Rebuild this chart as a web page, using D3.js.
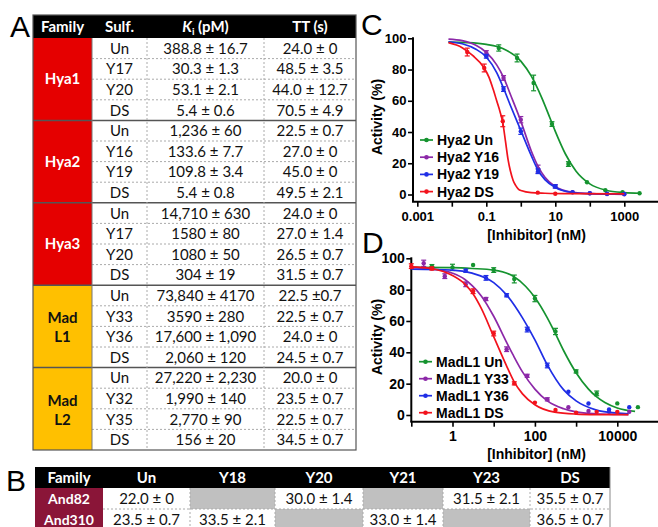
<!DOCTYPE html>
<html lang="en">
<head>
<meta charset="utf-8">
<title>Inhibitor tables and dose response</title>
<script src="https://cdn.jsdelivr.net/npm/d3@7"></script>
<style>
  body { margin: 0; background: #fff; }
  .tbl text { font-family: Lato, "Open Sans", sans-serif; font-size: 15px; fill: #111; }
  .plot text { font-family: "Liberation Sans", Arial, sans-serif; font-weight: bold; fill: #000; }
  .letter { font-family: "Liberation Sans", Arial, sans-serif; font-size: 30px; }
</style>
</head>
<body>
<script>
// ---- table A ----
var families = ["Hya1", "Hya2", "Hya3", "Mad L1", "Mad L2"];
var familyFill = ["#e50000", "#e50000", "#e50000", "#ffc000", "#ffc000"];
var sulfLabels = ["Un", "Y17", "Y20", "DS", "Un", "Y16", "Y19", "DS", "Un", "Y17", "Y20", "DS",
                  "Un", "Y33", "Y36", "DS", "Un", "Y32", "Y35", "DS"];
var kiValues = ["388.8 ± 16.7", "30.3 ± 1.3", "53.1 ± 2.1", "5.4 ± 0.6",
                "1,236 ± 60", "133.6 ± 7.7", "109.8 ± 3.4", "5.4 ± 0.8",
                "14,710 ± 630", "1580 ± 80", "1080 ± 50", "304 ± 19",
                "73,840 ± 4170", "3590 ± 280", "17,600 ± 1,090", "2,060 ± 120",
                "27,220 ± 2,230", "1,990 ± 140", "2,770 ± 90", "156 ± 20"];
var ttValues = ["24.0 ± 0", "48.5 ± 3.5", "44.0 ± 12.7", "70.5 ± 4.9",
                "22.5 ± 0.7", "27.0 ± 0", "45.0 ± 0", "49.5 ± 2.1",
                "24.0 ± 0", "27.0 ± 1.4", "26.5 ± 0.7", "31.5 ± 0.7",
                "22.5 ±0.7", "22.5 ± 0.7", "24.0 ± 0", "24.5 ± 0.7",
                "20.0 ± 0", "23.5 ± 0.7", "22.5 ± 0.7", "34.5 ± 0.7"];

// ---- table B ----
var bColumns = ["Family", "Un", "Y18", "Y20", "Y21", "Y23", "DS"];
var bFamilies = ["And82", "And310"];
var bValues = [["22.0 ± 0", null, "30.0 ± 1.4", null, "31.5 ± 2.1", "35.5 ± 0.7"],
               ["23.5 ± 0.7", "33.5 ± 2.1", null, "33.0 ± 1.4", null, "36.5 ± 0.7"]];

// ---- panel C: Hya2 (dose nM, activity %, error) ----
var hya2Labels = ["Hya2 Un", "Hya2 Y16", "Hya2 Y19", "Hya2 DS"];
var hya2UnPts = [[0.23, 93.8, 2], [0.78, 87.4, 2.5], [2.35, 71.4, 5], [8, 45.1, 1.5], [24, 19.5, 1.5],
                 [83, 7.8, 0.5], [282, 2.7, 0.5], [890, 1.4, 0.5], [2770, 0.8, 0.5]];
var hya2Y16Pts = [[0.1, 90.6, 1.5], [0.316, 74.6, 1.5], [1, 47.9, 2], [3.16, 16.3, 2.5], [10, 5.2, 1],
                  [31.6, 1.4, 0.5], [100, 0.8, 0.5], [316, 0.3, 0.5], [1000, 0.2, 0.5]];
var hya2Y19Pts = [[0.1, 88.5, 1.2], [0.316, 67.5, 1.5], [1, 40.5, 2], [3.16, 14.9, 1.5], [10, 5.2, 1],
                  [31.6, 1.5, 0.5], [100, 0.8, 0.5], [316, 0.5, 0.5], [1000, 0.3, 0.5]];
var hya2DSPts = [[0.028, 91.2, 2.5], [0.087, 81, 2.5], [0.3, 46.9, 3.5], [3.1, 1.2, 0.5], [10, 0.5, 0.3]];
// fitted curves
var hya2UnCurve = [[0.008, 97.5], [0.03, 97.2], [0.1, 96.1], [0.3, 93.5], [1, 85.4], [2, 75.9], [4, 62.2],
                   [7, 49], [10, 40.4], [20, 25.6], [40, 14.9], [100, 6.8], [300, 2.7], [1000, 1.2], [2800, 0.8]];
var hya2Y16Curve = [[0.008, 99.5], [0.02, 98.5], [0.05, 95.5], [0.1, 91], [0.2, 83], [0.316, 75], [0.5, 64],
                    [1, 47], [2, 28], [3.16, 18], [5, 11], [10, 5], [30, 1.5], [100, 0.5], [1000, 0.1]];
var hya2Y19Curve = [[0.008, 97.8], [0.02, 96.5], [0.05, 93], [0.1, 88], [0.2, 78], [0.316, 68], [0.5, 57],
                    [1, 41], [2, 25], [3.16, 15.5], [5, 9.5], [10, 4.5], [30, 1.3], [100, 0.5], [1000, 0.2]];
var hya2DSCurve = [[0.008, 97.2], [0.02, 94], [0.04, 89], [0.087, 81], [0.12, 75], [0.16, 67], [0.2, 60],
                   [0.25, 53], [0.3, 46], [0.36, 34], [0.43, 22], [0.5, 15], [0.6, 9], [0.7, 6], [0.85, 3.5],
                   [1.07, 2.4], [2, 1.2], [5, 0.8], [30, 0.5], [1000, 0.4]];
var cXTicks = [0.001, 0.01, 0.1, 1, 10, 100, 1000];
var cXLabels = ["0.001", "", "0.1", "", "10", "", "1000"];

// ---- panel D: MadL1 ----
var madLabels = ["MadL1 Un", "MadL1 Y33", "MadL1 Y36", "MadL1 DS"];
var madUnPts = [[0.316, 95, 1], [1, 94.2, 2], [3.16, 95.7, 0], [10, 92.5, 1.5], [31.6, 86.8, 2.5],
                [100, 74.3, 2], [316, 53.3, 2], [1000, 27.8, 1], [3162, 13.8, 1.5], [10000, 7.4, 0.5], [31623, 5.0, 0.5]];
var madY33Pts = [[0.2, 96.8, 2], [0.65, 88.6, 1.5], [2.1, 83.4, 1.5], [6.5, 74, 1], [20.6, 42, 1.5],
                 [65, 25, 1], [200, 10, 1], [650, 4.9, 0.5], [2000, 2.6, 0.5], [6300, 2.1, 0.5], [19500, 2.1, 0.5]];
var madY36Pts = [[2.1, 92.1, 1], [6.5, 87.5, 1.5], [20.6, 76.4, 1], [65, 54.5, 1.5], [200, 31.6, 1.5],
                 [650, 14.8, 0.5], [2000, 7.3, 0.5], [6300, 3.5, 0.5], [19500, 5.0, 0.5]];
var madDSPts = [[0.1, 95, 1.5], [0.316, 93.5, 1], [3.16, 79, 1.5], [10, 52, 1.5], [31.6, 20.2, 1],
                [100, 7.9, 0.5], [316, 3.2, 0.5], [1000, 1.5, 0.3], [3162, 2, 0.3], [10000, 2, 0.3]];
var madUnCurve = [[0.1, 94.2], [1, 94], [3, 93.5], [10, 92.5], [30, 88.5], [60, 82], [100, 75], [200, 62],
                  [300, 53], [500, 41], [1000, 27], [2000, 16.5], [3000, 12], [5000, 8], [10000, 4.5], [27000, 2.3]];
var madY33Curve = [[0.1, 94], [0.3, 93.3], [1, 90.5], [2, 86.5], [3, 82.5], [5, 76], [10, 63], [20, 47], [30, 38],
                   [50, 27.5], [100, 16.5], [200, 9], [500, 4], [1000, 2], [3000, 0.8], [10000, 0.4], [18600, 0.3]];
var madY36Curve = [[0.1, 93], [1, 92.5], [3, 90.5], [10, 84.5], [20, 77], [50, 62], [100, 48], [200, 32],
                   [500, 16], [1000, 9], [3000, 3.3], [10000, 1.2], [18600, 0.8]];
var madDSCurve = [[0.1, 94.5], [0.3, 93.5], [1, 89], [2, 83.5], [3.2, 77], [5, 68], [10, 50], [20, 32],
                  [31.6, 21], [50, 13.5], [100, 6.5], [300, 1.8], [1000, 0.6], [3000, 0.3], [18600, 0.2]];
var dXTicks = [0.1, 1, 10, 100, 1000, 10000];
var dXLabels = ["", "1", "", "100", "", "10000"];

var yTicks = [0, 20, 40, 60, 80, 100];
var seriesColors = ["#15932f", "#8c28a8", "#1f2ee6", "#f2121c"];

var svg = d3.select("body").append("svg")
    .attr("width", 658)
    .attr("height", 527);

// panel letters
svg.append("text").attr("class", "letter").attr("x", 10).attr("y", 37).text("A");
svg.append("text").attr("class", "letter").attr("x", 6).attr("y", 491).text("B");
svg.append("text").attr("class", "letter").attr("x", 361).attr("y", 35).text("C");
svg.append("text").attr("class", "letter").attr("x", 362).attr("y", 253).text("D");

// ================= table A =================
var ta = svg.append("g").attr("class", "tbl");
var colX = d3.scaleLinear().domain([0, 1, 2, 3, 4]).range([33, 92, 147, 264, 356]);
var rowY = d3.scaleBand().domain(d3.range(20)).range([38, 450]);
var rh = rowY.bandwidth();
var colMid = function(i) { return (colX(i) + colX(i + 1)) / 2; };

ta.append("rect").attr("x", colX(0)).attr("y", 15).attr("width", colX(4) - colX(0)).attr("height", 23).attr("fill", "#000");
var hdr = ["Family", "Sulf.", null, "TT (s)"];
hdr.forEach(function(h, i) {
    if (h === null) return;
    ta.append("text").attr("x", colMid(i)).attr("y", 31.5).attr("text-anchor", "middle")
        .style("fill", "#fff").style("font-weight", "bold").text(h);
});
var kiHdr = ta.append("text").attr("x", colMid(2)).attr("y", 31.5).attr("text-anchor", "middle")
    .style("fill", "#fff").style("font-weight", "bold");
kiHdr.append("tspan").style("font-style", "italic").text("K");
kiHdr.append("tspan").attr("dy", 3).style("font-size", "10px").text("i");
kiHdr.append("tspan").attr("dy", -3).text(" (pM)");

// family blocks
families.forEach(function(f, i) {
    var y0 = rowY(i * 4), y1 = rowY(i * 4 + 3) + rh;
    ta.append("rect").attr("x", colX(0)).attr("y", y0).attr("width", colX(1) - colX(0)).attr("height", y1 - y0)
        .attr("fill", familyFill[i]);
    var parts = f.split(" ");
    var t = ta.append("text").attr("x", colMid(0)).attr("text-anchor", "middle")
        .style("font-weight", "bold").style("fill", i < 3 ? "#fff" : "#111");
    if (parts.length === 1) {
        t.attr("y", (y0 + y1) / 2 + 5).text(f);
    } else {
        t.attr("y", (y0 + y1) / 2 - 3).text(parts[0]);
        ta.append("text").attr("x", colMid(0)).attr("y", (y0 + y1) / 2 + 16).attr("text-anchor", "middle")
            .style("font-weight", "bold").text(parts[1]);
    }
});

// cells
d3.range(20).forEach(function(r) {
    var cy = rowY(r) + rh / 2 + 5.5;
    ta.append("text").attr("x", colMid(1)).attr("y", cy).attr("text-anchor", "middle").text(sulfLabels[r]);
    ta.append("text").attr("x", colMid(2)).attr("y", cy).attr("text-anchor", "middle").text(kiValues[r]);
    ta.append("text").attr("x", colMid(3)).attr("y", cy).attr("text-anchor", "middle").text(ttValues[r]);
});

// grid lines
d3.range(1, 20).forEach(function(r) {
    var solid = r % 4 === 0;
    ta.append("line")
        .attr("x1", solid ? colX(0) : colX(1)).attr("x2", colX(4))
        .attr("y1", rowY(r)).attr("y2", rowY(r))
        .attr("stroke", solid ? "#555" : "#aaa")
        .attr("stroke-width", solid ? 1.5 : 1)
        .attr("stroke-dasharray", solid ? null : "2,2");
});
[2, 3].forEach(function(c) {
    ta.append("line").attr("x1", colX(c)).attr("x2", colX(c)).attr("y1", 38).attr("y2", 450)
        .attr("stroke", "#aaa").attr("stroke-dasharray", "2,2");
});
ta.append("line").attr("x1", colX(1)).attr("x2", colX(1)).attr("y1", 38).attr("y2", 450).attr("stroke", "#777");
ta.append("rect").attr("x", colX(0)).attr("y", 15).attr("width", colX(4) - colX(0)).attr("height", 435)
    .attr("fill", "none").attr("stroke", "#555").attr("stroke-width", 1.2);

// ================= table B =================
var tb = svg.append("g").attr("class", "tbl");
var bColX = d3.scaleLinear().domain([0, 1, 2, 3, 4, 5, 6, 7]).range([35, 103, 190, 275, 363, 443, 530, 610]);
var bRowY = d3.scaleBand().domain([0, 1, 2]).range([467, 530]);
var brh = bRowY.bandwidth();
tb.append("rect").attr("x", bColX(0)).attr("y", bRowY(0)).attr("width", bColX(7) - bColX(0)).attr("height", brh)
    .attr("fill", "#000");
bColumns.forEach(function(c, i) {
    tb.append("text").attr("x", (bColX(i) + bColX(i + 1)) / 2).attr("y", bRowY(0) + brh / 2 + 5)
        .attr("text-anchor", "middle").style("fill", "#fff").style("font-weight", "bold").text(c);
});
bFamilies.forEach(function(f, r) {
    var y0 = bRowY(r + 1);
    tb.append("rect").attr("x", bColX(0)).attr("y", y0).attr("width", bColX(1) - bColX(0)).attr("height", brh)
        .attr("fill", "#8a1538");
    tb.append("text").attr("x", (bColX(0) + bColX(1)) / 2).attr("y", y0 + brh / 2 + 5).attr("text-anchor", "middle")
        .style("fill", "#fff").style("font-weight", "bold").style("font-size", "14px").text(f);
    bValues[r].forEach(function(v, c) {
        var x0 = bColX(c + 1), x1 = bColX(c + 2);
        if (v === null) {
            tb.append("rect").attr("x", x0).attr("y", y0).attr("width", x1 - x0).attr("height", brh).attr("fill", "#c0c0c0");
        } else {
            tb.append("text").attr("x", (x0 + x1) / 2).attr("y", y0 + brh / 2 + 5).attr("text-anchor", "middle").text(v);
        }
    });
});
tb.append("line").attr("x1", bColX(1)).attr("x2", bColX(7)).attr("y1", bRowY(2)).attr("y2", bRowY(2))
    .attr("stroke", "#aaa").attr("stroke-dasharray", "2,2");
d3.range(2, 7).forEach(function(c) {
    tb.append("line").attr("x1", bColX(c)).attr("x2", bColX(c)).attr("y1", bRowY(1)).attr("y2", 527)
        .attr("stroke", "#aaa").attr("stroke-dasharray", "2,2");
});
tb.append("line").attr("x1", bColX(7)).attr("x2", bColX(7)).attr("y1", bRowY(0)).attr("y2", 527).attr("stroke", "#888");

// ================= dose-response panels =================
function drawPanel(cfg) {
    var g = svg.append("g").attr("class", "plot");
    var x = d3.scaleLog().domain(cfg.xDomain).range(cfg.xRange);
    var y = d3.scaleLinear().domain([0, 100]).range(cfg.yRange);
    var x0 = cfg.xRange[0];

    // y axis
    var ya = g.append("g").attr("transform", "translate(" + x0 + ",0)")
        .call(d3.axisLeft(y).tickValues(yTicks).tickSize(5).tickPadding(cfg.yPad));
    ya.select(".domain").remove();
    ya.selectAll("line").attr("stroke-width", 1.6);
    ya.selectAll("text").attr("font-family", cfg.tickFont).attr("font-size", cfg.tickSize).attr("font-weight", "bold");
    g.append("line").attr("x1", x0).attr("x2", x0).attr("y1", y(100) - 1).attr("y2", cfg.axisY)
        .attr("stroke", "#000").attr("stroke-width", 2);

    // x axis
    var xa = g.append("g").attr("transform", "translate(0," + cfg.axisY + ")")
        .call(d3.axisBottom(x).tickValues(cfg.xTicks)
            .tickFormat(function(d, i) { return cfg.xLabels[i]; })
            .tickSize(5).tickPadding(cfg.xPad));
    xa.select(".domain").remove();
    xa.selectAll("line").attr("stroke-width", 1.6);
    xa.selectAll("text").attr("font-family", cfg.tickFont).attr("font-size", cfg.tickSize).attr("font-weight", "bold");
    g.append("line").attr("x1", x0 - 1).attr("x2", cfg.xRange[1]).attr("y1", cfg.axisY).attr("y2", cfg.axisY)
        .attr("stroke", "#000").attr("stroke-width", 2);

    // axis titles
    g.append("text").attr("transform", "translate(" + cfg.yTitle[0] + "," + cfg.yTitle[1] + ") rotate(-90)")
        .attr("text-anchor", "middle").style("font-size", "14px").text("Activity (%)");
    g.append("text").attr("x", cfg.xTitle[0]).attr("y", cfg.xTitle[1])
        .attr("text-anchor", "middle").style("font-size", "14px").text("[Inhibitor] (nM)");

    var line = d3.line()
        .x(function(d) { return x(d[0]); })
        .y(function(d) { return y(d[1]); })
        .curve(d3.curveMonotoneX);

    cfg.series.forEach(function(s, i) {
        var col = seriesColors[i];
        g.append("path").datum(s.curve).attr("d", line)
            .attr("fill", "none").attr("stroke", col).attr("stroke-width", 1.7);
        var pts = g.append("g").selectAll("g").data(s.pts).enter().append("g");
        pts.append("line")
            .attr("x1", function(d) { return x(d[0]); }).attr("x2", function(d) { return x(d[0]); })
            .attr("y1", function(d) { return y(d[1] - d[2]); }).attr("y2", function(d) { return y(d[1] + d[2]); })
            .attr("stroke", col).attr("stroke-width", 1.3);
        [-1, 1].forEach(function(sign) {
            pts.filter(function(d) { return d[2] > 0.8; }).append("line")
                .attr("x1", function(d) { return x(d[0]) - 2.5; }).attr("x2", function(d) { return x(d[0]) + 2.5; })
                .attr("y1", function(d) { return y(d[1] + sign * d[2]); })
                .attr("y2", function(d) { return y(d[1] + sign * d[2]); })
                .attr("stroke", col).attr("stroke-width", 1.2);
        });
        pts.append("circle")
            .attr("cx", function(d) { return x(d[0]); }).attr("cy", function(d) { return y(d[1]); })
            .attr("r", 2.2).attr("fill", col);

        // legend
        var ly = cfg.legendY + i * cfg.legendStep;
        var lg = g.append("g").attr("transform", "translate(" + cfg.legendX + "," + ly + ")");
        lg.append("line").attr("x1", 0).attr("x2", 13).attr("stroke", col).attr("stroke-width", 1.7);
        lg.append("circle").attr("cx", 6.5).attr("r", 2.3).attr("fill", col);
        lg.append("text").attr("x", 17).attr("dy", "0.36em").style("font-size", "14px").text(s.label);
    });
}

drawPanel({
    xDomain: [0.00075, 10000], xRange: [413, 658.8],
    yRange: [194.5, 38.3], axisY: 201.7,
    xTicks: cXTicks, xLabels: cXLabels,
    tickFont: "'Liberation Serif', 'Times New Roman', serif", tickSize: 13, yPad: 1.5, xPad: 5,
    yTitle: [381.5, 117], xTitle: [536.5, 240],
    legendX: 420, legendY: 140, legendStep: 17.2,
    series: [
        { label: hya2Labels[0], pts: hya2UnPts, curve: hya2UnCurve },
        { label: hya2Labels[1], pts: hya2Y16Pts, curve: hya2Y16Curve },
        { label: hya2Labels[2], pts: hya2Y19Pts, curve: hya2Y19Curve },
        { label: hya2Labels[3], pts: hya2DSPts, curve: hya2DSCurve }
    ]
});

drawPanel({
    xDomain: [0.1, 100000], xRange: [411.3, 658.5],
    yRange: [415, 258.3], axisY: 421.7,
    xTicks: dXTicks, xLabels: dXLabels,
    tickFont: "'Liberation Sans', Arial, sans-serif", tickSize: 14, yPad: 1.5, xPad: 4,
    yTitle: [381.5, 337], xTitle: [536.5, 459],
    legendX: 419, legendY: 361.7, legendStep: 17,
    series: [
        { label: madLabels[0], pts: madUnPts, curve: madUnCurve },
        { label: madLabels[1], pts: madY33Pts, curve: madY33Curve },
        { label: madLabels[2], pts: madY36Pts, curve: madY36Curve },
        { label: madLabels[3], pts: madDSPts, curve: madDSCurve }
    ]
});
</script>
</body>
</html>
